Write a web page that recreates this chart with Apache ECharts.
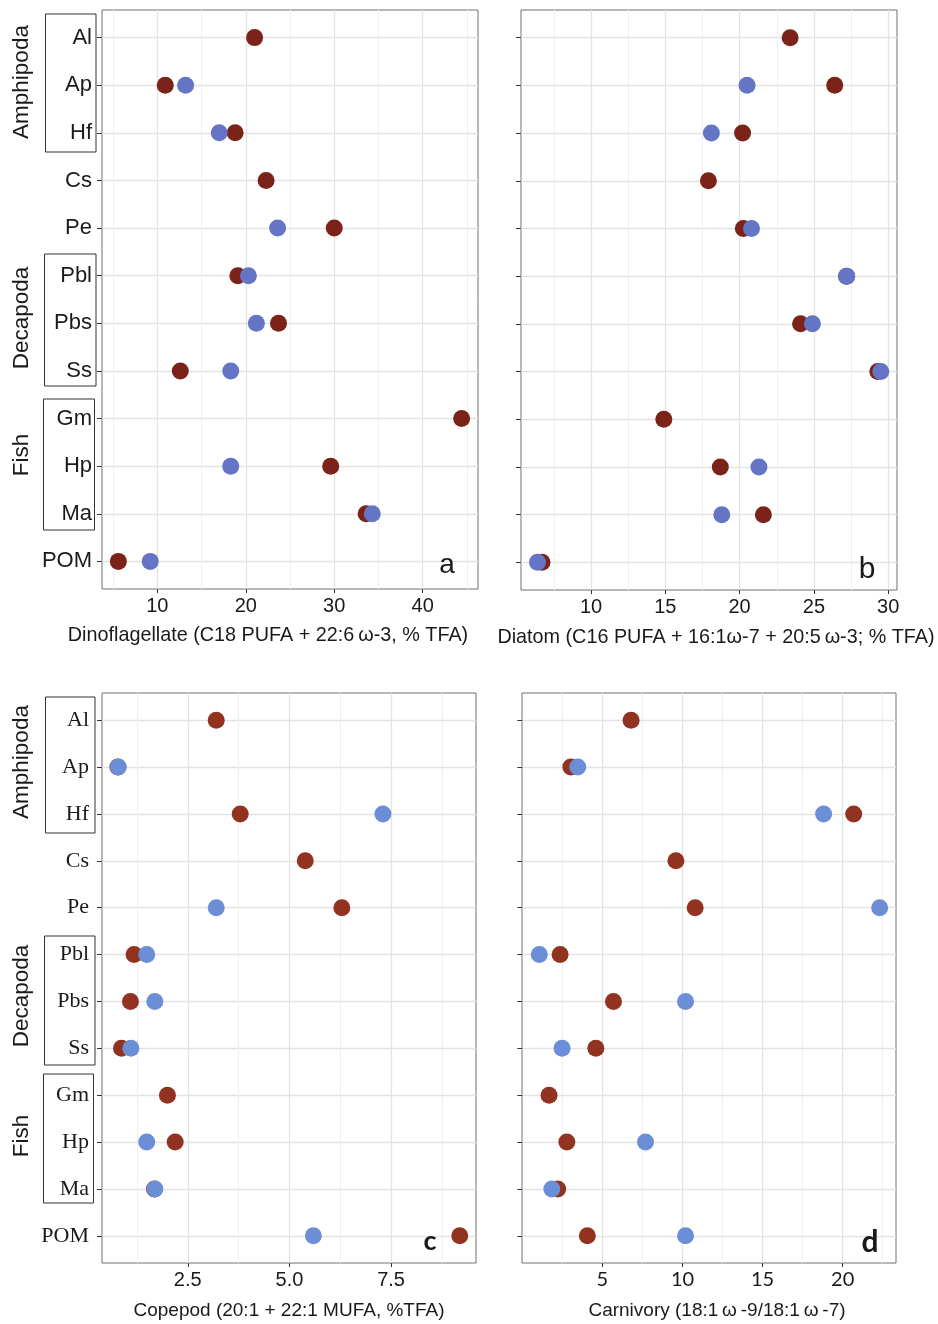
<!DOCTYPE html>
<html><head><meta charset="utf-8">
<script src="https://cdn.jsdelivr.net/npm/echarts@6/dist/echarts.min.js"></script>
<style>html,body{margin:0;padding:0;background:#fff}#c{width:938px;height:1324px}</style>
</head><body><div id="c"></div>
<script>
const categories = ['Al','Ap','Hf','Cs','Pe','Pbl','Pbs','Ss','Gm','Hp','Ma','POM'];
const groups = ['Amphipoda','Decapoda','Fish'];

const dinoRed   = [21.0, 10.9, 18.8, 22.3, 30.0, 19.1, 23.7, 12.6, 44.4, 29.6, 33.6, 5.6];
const dinoBlue  = [null, 13.2, 17.0, null, 23.6, 20.3, 21.2, 18.3, null, 18.3, 34.3, 9.2];
const diatomRed = [23.4, 26.4, 20.2, 17.9, 20.25, 27.2, 24.1, 29.3, 14.9, 18.7, 21.6, 6.7];
const diatomBlue= [null, 20.5, 18.1, null, 20.8, 27.2, 24.9, 29.5, null, 21.3, 18.8, 6.4];
const copeRed   = [3.2, 0.78, 3.79, 5.39, 6.29, 1.18, 1.09, 0.87, 2.0, 2.19, 1.68, 9.19];
const copeBlue  = [null, 0.79, 7.3, null, 3.2, 1.49, 1.69, 1.1, null, 1.49, 1.69, 5.59];
const carnRed   = [6.79, 3.03, 20.69, 9.59, 10.79, 2.36, 5.69, 4.59, 1.67, 2.78, 2.21, 4.06];
const carnBlue  = [null, 3.46, 18.81, null, 22.31, 1.06, 10.19, 2.48, null, 7.69, 1.84, 10.19];

const ticksA = [10, 20, 30, 40];
const ticksB = [10, 15, 20, 25, 30];
const ticksC = [2.5, 5.0, 7.5];
const ticksD = [5, 10, 15, 20];

const titleA = 'Dinoflagellate (C18 PUFA + 22:6\u2009\u03c9-3, % TFA)';
const titleB = 'Diatom (C16 PUFA + 16:1\u03c9-7 + 20:5\u2009\u03c9-3; % TFA)';
const titleC = 'Copepod (20:1 + 22:1 MUFA, %TFA)';
const titleD = 'Carnivory (18:1\u2009\u03c9\u2009-9/18:1\u2009\u03c9\u2009-7)';

const panels = [
  {grid:{left:102,top:10,width:376,height:579}, xr:[3.75,46.25], ticks:ticksA, minor:[5,15,25,35,45], red:dinoRed, blue:dinoBlue, labels:true, lfont:'Liberation Sans', lsize:22, red_c:'#7b2318', blue_c:'#6475c6', lmargin:10, tfmt:v=>String(v), tfont:'Liberation Sans'},
  {grid:{left:521,top:10,width:376,height:580}, xr:[5.29,30.59], ticks:ticksB, minor:[7.5,12.5,17.5,22.5,27.5], red:diatomRed, blue:diatomBlue, labels:false, red_c:'#7b2318', blue_c:'#6475c6', tfmt:v=>String(v), tfont:'Liberation Sans'},
  {grid:{left:102,top:693,width:374,height:570}, xr:[0.39,9.59], ticks:ticksC, minor:[1.25,3.75,6.25,8.75], red:copeRed, blue:copeBlue, labels:true, lfont:'Liberation Serif', lsize:22, red_c:'#923322', blue_c:'#6b8ed6', lmargin:13, tfmt:v=>v.toFixed(1), tfont:'Liberation Sans'},
  {grid:{left:522,top:693,width:374,height:570}, xr:[-0.02,23.33], ticks:ticksD, minor:[2.5,7.5,12.5,17.5,22.5], red:carnRed, blue:carnBlue, labels:false, red_c:'#923322', blue_c:'#6b8ed6', tfmt:v=>String(v), tfont:'Lato'}
];

const rowVals = categories.map((c,i)=>i+1);
const option = {animation:false, grid:[], xAxis:[], yAxis:[], series:[], graphic:[]};
panels.forEach((p,k)=>{
  option.grid.push(Object.assign({show:true, borderColor:'#707070', borderWidth:1, backgroundColor:'#fff'}, p.grid));
  option.xAxis.push({type:'value', gridIndex:k, min:p.xr[0], max:p.xr[1], position:'bottom',
    axisLine:{show:false},
    axisTick:{show:true, customValues:p.ticks, length:4, lineStyle:{color:'#333'}},
    axisLabel:{customValues:p.ticks, formatter:p.tfmt, fontSize:20, color:'#1a1a1a', fontFamily:p.tfont, margin:7},
    splitLine:{show:true, lineStyle:{color:'#e3e3e3', width:1.3}}, z:1});
  option.xAxis.push({type:'value', gridIndex:k, min:p.xr[0], max:p.xr[1], position:'bottom',
    axisLine:{show:false}, axisLabel:{show:false},
    axisTick:{show:false, customValues:p.minor},
    splitLine:{show:true, lineStyle:{color:'#efefef', width:1}}, z:0});
  option.yAxis.push({type:'value', gridIndex:k, inverse:true, min:0.42, max:12.58,
    axisLine:{show:false},
    axisTick:{show:true, customValues:rowVals, length:5, lineStyle:{color:'#333'}},
    axisLabel:{show:p.labels, customValues:rowVals, formatter:v=>categories[Math.round(v)-1]||'', fontSize:p.lsize||21, color:'#1a1a1a', fontFamily:p.lfont||'Liberation Sans', margin:p.lmargin||8},
    splitLine:{show:true, lineStyle:{color:'#e3e3e3', width:1.3}}});
  const mk = arr => arr.map((v,i)=> v==null ? null : [v, i+1]).filter(d=>d);
  option.series.push({type:'scatter', xAxisIndex:2*k, yAxisIndex:k, symbolSize:17, data:mk(p.red), itemStyle:{color:p.red_c, opacity:1}, z:3});
  option.series.push({type:'scatter', xAxisIndex:2*k, yAxisIndex:k, symbolSize:17, data:mk(p.blue), itemStyle:{color:p.blue_c, opacity:1}, z:4});
});

function box(x1,y1,x2,y2){ return {type:'rect', shape:{x:x1,y:y1,width:x2-x1,height:y2-y1}, style:{fill:'none', stroke:'#333', lineWidth:1}, z:10}; }
function vtext(t,x,y){ return {type:'text', x:x, y:y, rotation:Math.PI/2, style:{text:t, fill:'#1a1a1a', font:'22.5px "Liberation Sans"', align:'center', verticalAlign:'middle'}, z:10}; }
function htext(t,x,y,font){ return {type:'text', x:x, y:y, style:{text:t, fill:'#1a1a1a', font:font, align:'center', verticalAlign:'middle'}, z:10}; }
option.graphic.push(
  box(45.5,14,96,152), box(44.5,254,96,386), box(43.5,399,94.5,530),
  vtext(groups[0],22,82), vtext(groups[1],22,318), vtext(groups[2],22,455),
  box(45.5,697,95,833), box(44.5,936,95,1065), box(43.5,1074,93.5,1203),
  vtext(groups[0],22,762), vtext(groups[1],22,996), vtext(groups[2],22,1136),
  htext(titleA,268,636,'19.8px "Liberation Sans"'),
  htext(titleB,716,638,'19.8px "Liberation Sans"'),
  htext(titleC,289,1311,'19px "Liberation Sans"'),
  htext(titleD,717,1311,'19px "Liberation Sans"'),
  htext('a',447,565,'28px "Liberation Sans"'),
  htext('b',867,570,'30px "Liberation Sans"'),
  htext('c',430,1241,'bold 27px "Lato"'),
  htext('d',870,1242,'bold 30px "Lato"')
);

const chart = echarts.init(document.getElementById('c'), null, {renderer:'canvas'});
chart.setOption(option);
</script></body></html>
